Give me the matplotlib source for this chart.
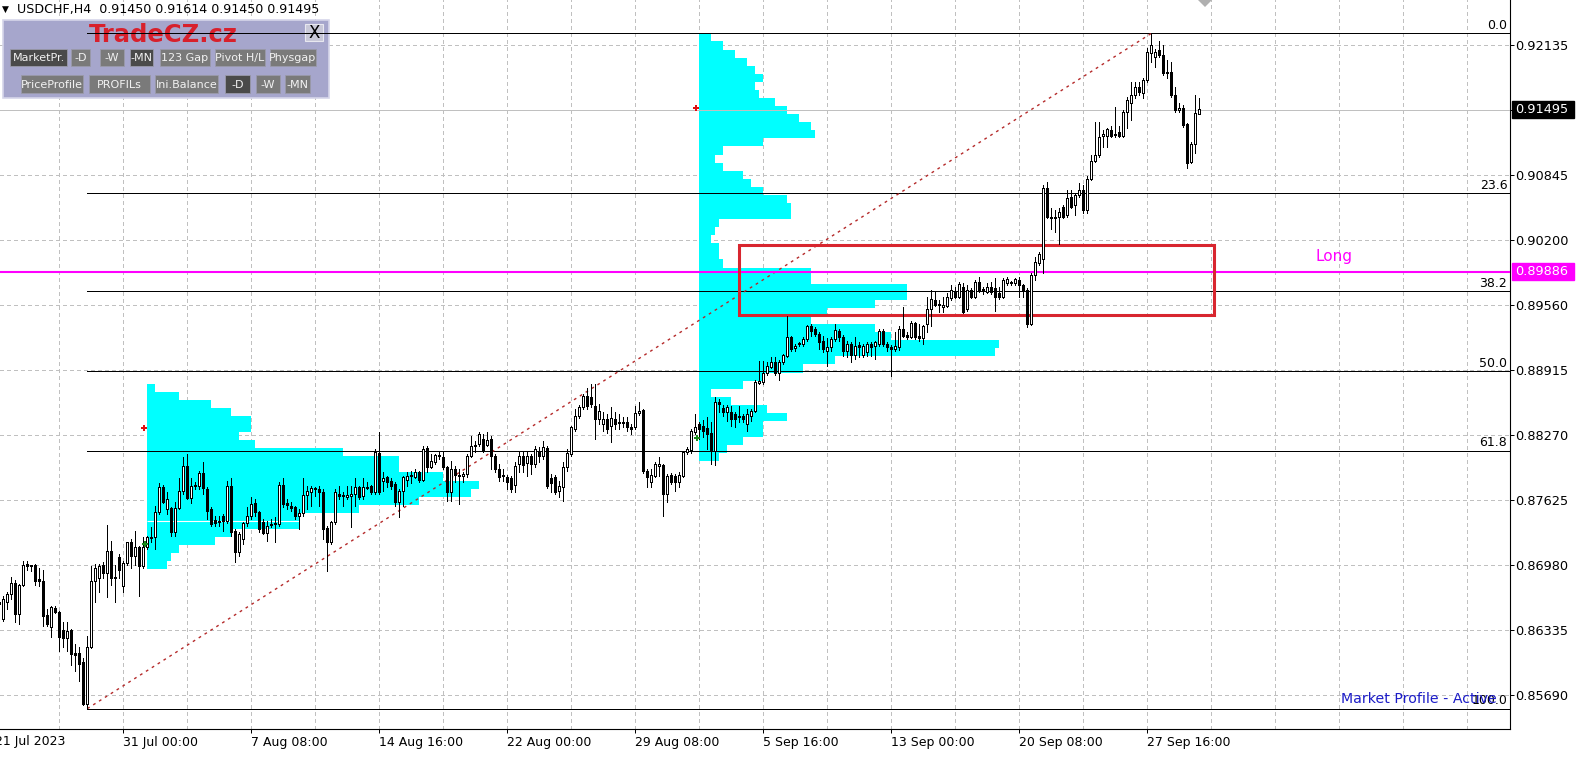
import numpy as np
import matplotlib
matplotlib.use("Agg")
import matplotlib.pyplot as plt
import matplotlib.transforms as mtransforms
from matplotlib.patches import Rectangle, Polygon

W, H = 1579, 759
plt.rcParams['font.family'] = ['DejaVu Sans']

# USDCHF H4, prices in pips (1e-4); index 0 = bar -1 (21 Jul 20:00), last = 29 Sep 20:00
first_bar = -1
opens = [8662, 8645, 8662, 8670, 8680, 8650, 8678, 8699, 8698, 8698, 8684, 8682, 8649, 8637, 8656, 8652, 8634, 8626, 8634, 8611,
         8611, 8602, 8561, 8617, 8682, 8685, 8698, 8690, 8712, 8686, 8706, 8677, 8700, 8721, 8707, 8716, 8697, 8716, 8725, 8726,
         8751, 8776, 8754, 8755, 8731, 8755, 8772, 8796, 8765, 8777, 8777, 8789, 8774, 8754, 8743, 8741, 8747, 8742, 8777, 8732,
         8711, 8724, 8740, 8747, 8760, 8751, 8741, 8730, 8738, 8739, 8739, 8778, 8760, 8757, 8756, 8747, 8750, 8768, 8771, 8774,
         8774, 8771, 8735, 8721, 8741, 8769, 8767, 8766, 8767, 8769, 8776, 8767, 8776, 8777, 8771, 8809, 8782, 8785, 8782, 8779,
         8761, 8772, 8783, 8786, 8785, 8790, 8783, 8814, 8795, 8800, 8806, 8805, 8795, 8771, 8793, 8786, 8786, 8788, 8806, 8817,
         8818, 8823, 8817, 8823, 8806, 8793, 8787, 8785, 8784, 8778, 8798, 8806, 8799, 8806, 8798, 8811, 8806, 8814, 8784, 8785,
         8772, 8776, 8795, 8808, 8833, 8846, 8855, 8866, 8865, 8856, 8843, 8838, 8843, 8836, 8843, 8840, 8839, 8840, 8835, 8835,
         8849, 8852, 8791, 8781, 8786, 8796, 8797, 8769, 8787, 8786, 8781, 8786, 8810, 8812, 8830, 8838, 8836, 8834, 8829, 8811,
         8860, 8854, 8850, 8850, 8848, 8846, 8846, 8838, 8846, 8851, 8879, 8880, 8889, 8894, 8899, 8889, 8899, 8905, 8924, 8913,
         8917, 8917, 8922, 8935, 8932, 8927, 8920, 8910, 8914, 8922, 8930, 8924, 8910, 8917, 8906, 8916, 8906, 8909, 8917, 8915,
         8917, 8930, 8917, 8914, 8912, 8914, 8932, 8926, 8924, 8938, 8925, 8923, 8937, 8952, 8961, 8957, 8954, 8955, 8963, 8970,
         8964, 8974, 8952, 8971, 8964, 8979, 8972, 8969, 8974, 8973, 8968, 8964, 8978, 8979, 8978, 8981, 8976, 8971, 8937, 8986,
         8998, 9001, 9072, 9043, 9043, 9043, 9053, 9045, 9063, 9055, 9065, 9070, 9050, 9081, 9099, 9105, 9123, 9123, 9129, 9125,
         9127, 9123, 9147, 9156, 9164, 9172, 9166, 9179, 9206, 9202, 9209, 9204, 9186, 9187, 9164, 9149, 9151, 9135, 9098, 9115,
         9145]
highs = [8665, 8668, 8672, 8686, 8683, 8679, 8702, 8702, 8698, 8699, 8695, 8693, 8655, 8658, 8658, 8653, 8642, 8642, 8635, 8620,
         8617, 8606, 8628, 8697, 8699, 8699, 8701, 8738, 8722, 8698, 8709, 8702, 8721, 8724, 8732, 8717, 8726, 8727, 8736, 8757,
         8780, 8778, 8771, 8756, 8761, 8784, 8805, 8808, 8784, 8781, 8791, 8800, 8776, 8756, 8747, 8747, 8749, 8782, 8784, 8734,
         8731, 8741, 8756, 8766, 8764, 8752, 8744, 8742, 8744, 8746, 8781, 8784, 8764, 8761, 8757, 8754, 8784, 8777, 8777, 8776,
         8777, 8774, 8737, 8742, 8774, 8777, 8771, 8777, 8777, 8784, 8777, 8784, 8781, 8778, 8813, 8830, 8790, 8786, 8784, 8781,
         8774, 8786, 8790, 8791, 8793, 8791, 8816, 8816, 8808, 8808, 8810, 8810, 8796, 8801, 8796, 8793, 8790, 8808, 8826, 8821,
         8830, 8828, 8830, 8826, 8808, 8798, 8793, 8787, 8786, 8800, 8810, 8810, 8811, 8808, 8816, 8815, 8821, 8816, 8788, 8787,
         8782, 8800, 8813, 8836, 8853, 8857, 8868, 8874, 8878, 8878, 8858, 8850, 8848, 8855, 8850, 8848, 8845, 8845, 8838, 8856,
         8860, 8853, 8793, 8793, 8800, 8805, 8798, 8788, 8789, 8788, 8790, 8811, 8815, 8833, 8848, 8840, 8842, 8845, 8840, 8865,
         8863, 8857, 8857, 8856, 8850, 8856, 8848, 8853, 8853, 8882, 8900, 8900, 8899, 8904, 8904, 8901, 8907, 8945, 8925, 8917,
         8919, 8924, 8936, 8937, 8934, 8929, 8925, 8923, 8924, 8937, 8932, 8926, 8920, 8919, 8924, 8919, 8917, 8919, 8919, 8920,
         8932, 8932, 8919, 8916, 8929, 8935, 8954, 8929, 8940, 8939, 8937, 8936, 8964, 8971, 8969, 8961, 8964, 8968, 8976, 8974,
         8979, 8978, 8976, 8973, 8981, 8984, 8974, 8978, 8979, 8983, 8974, 8983, 8984, 8980, 8983, 8984, 8977, 8973, 8988, 9003,
         9008, 9075, 9078, 9052, 9050, 9052, 9055, 9070, 9070, 9067, 9077, 9075, 9084, 9105, 9137, 9137, 9129, 9131, 9133, 9152,
         9133, 9149, 9162, 9177, 9177, 9177, 9181, 9211, 9225, 9210, 9217, 9214, 9199, 9197, 9172, 9156, 9154, 9136, 9117, 9164,
         9161]
lows = [8655, 8643, 8655, 8665, 8642, 8640, 8677, 8693, 8692, 8678, 8677, 8638, 8638, 8627, 8651, 8613, 8617, 8613, 8599, 8593,
        8583, 8560, 8556, 8616, 8662, 8672, 8685, 8667, 8678, 8662, 8685, 8672, 8698, 8695, 8698, 8668, 8695, 8714, 8721, 8714,
        8749, 8760, 8749, 8727, 8727, 8754, 8769, 8764, 8760, 8774, 8774, 8769, 8744, 8737, 8737, 8737, 8732, 8740, 8727, 8701,
        8707, 8719, 8737, 8744, 8747, 8731, 8729, 8722, 8736, 8721, 8737, 8756, 8754, 8752, 8744, 8734, 8747, 8754, 8757, 8767,
        8757, 8724, 8692, 8719, 8739, 8764, 8757, 8764, 8736, 8757, 8764, 8764, 8774, 8769, 8769, 8769, 8772, 8776, 8774, 8757,
        8746, 8757, 8777, 8780, 8784, 8781, 8782, 8790, 8794, 8798, 8803, 8793, 8762, 8762, 8781, 8759, 8781, 8785, 8805, 8810,
        8816, 8810, 8816, 8793, 8790, 8782, 8782, 8774, 8771, 8771, 8790, 8790, 8786, 8788, 8795, 8800, 8803, 8775, 8771, 8769,
        8766, 8762, 8791, 8806, 8831, 8844, 8853, 8853, 8855, 8823, 8838, 8831, 8829, 8820, 8833, 8833, 8835, 8831, 8828, 8833,
        8847, 8789, 8776, 8776, 8785, 8786, 8747, 8761, 8779, 8772, 8776, 8785, 8808, 8809, 8828, 8823, 8825, 8813, 8798, 8797,
        8850, 8846, 8841, 8836, 8835, 8840, 8840, 8831, 8841, 8850, 8878, 8878, 8887, 8893, 8887, 8882, 8897, 8904, 8910, 8910,
        8915, 8915, 8920, 8925, 8925, 8912, 8909, 8895, 8910, 8920, 8920, 8905, 8904, 8899, 8902, 8904, 8904, 8905, 8905, 8902,
        8915, 8915, 8910, 8886, 8910, 8911, 8924, 8922, 8923, 8922, 8920, 8917, 8929, 8935, 8955, 8949, 8949, 8954, 8961, 8963,
        8963, 8948, 8950, 8963, 8963, 8969, 8967, 8968, 8967, 8950, 8962, 8963, 8976, 8976, 8976, 8964, 8964, 8934, 8936, 8981,
        8996, 8988, 9042, 9031, 9028, 9016, 9042, 9043, 9052, 9045, 9063, 9047, 9047, 9080, 9098, 9103, 9112, 9112, 9122, 9122,
        9122, 9122, 9131, 9139, 9161, 9164, 9161, 9177, 9197, 9192, 9202, 9184, 9181, 9162, 9147, 9147, 9132, 9092, 9097, 9107,
        9145]
closes = [8660, 8665, 8670, 8680, 8650, 8678, 8698, 8697, 8697, 8682, 8682, 8648, 8640, 8657, 8652, 8627, 8626, 8633, 8610, 8609,
          8600, 8561, 8617, 8682, 8695, 8697, 8690, 8712, 8685, 8685, 8693, 8700, 8721, 8707, 8716, 8697, 8716, 8726, 8726, 8751,
          8776, 8761, 8764, 8731, 8755, 8772, 8796, 8765, 8777, 8778, 8789, 8775, 8752, 8739, 8740, 8742, 8742, 8777, 8731, 8711,
          8729, 8740, 8747, 8759, 8751, 8734, 8730, 8737, 8739, 8740, 8778, 8759, 8758, 8755, 8747, 8750, 8768, 8772, 8775, 8775,
          8771, 8734, 8721, 8741, 8771, 8767, 8768, 8768, 8769, 8776, 8766, 8776, 8775, 8771, 8810, 8771, 8784, 8781, 8777, 8761,
          8772, 8785, 8786, 8787, 8790, 8783, 8813, 8795, 8801, 8807, 8807, 8795, 8771, 8793, 8787, 8787, 8788, 8806, 8816, 8816,
          8828, 8812, 8822, 8806, 8793, 8785, 8786, 8781, 8774, 8796, 8806, 8797, 8806, 8798, 8813, 8806, 8815, 8777, 8780, 8771,
          8777, 8795, 8809, 8835, 8846, 8855, 8866, 8856, 8858, 8843, 8851, 8843, 8833, 8844, 8838, 8839, 8840, 8835, 8833, 8849,
          8851, 8791, 8785, 8787, 8798, 8798, 8769, 8786, 8781, 8781, 8787, 8810, 8813, 8831, 8835, 8833, 8831, 8828, 8811, 8860,
          8858, 8850, 8855, 8843, 8843, 8845, 8843, 8848, 8851, 8880, 8881, 8889, 8895, 8899, 8889, 8899, 8906, 8924, 8912, 8915,
          8918, 8922, 8935, 8930, 8927, 8919, 8912, 8914, 8922, 8931, 8924, 8910, 8917, 8906, 8915, 8914, 8915, 8917, 8914, 8919,
          8930, 8917, 8914, 8912, 8915, 8932, 8925, 8924, 8938, 8924, 8923, 8935, 8952, 8962, 8956, 8956, 8956, 8964, 8971, 8964,
          8977, 8949, 8971, 8964, 8979, 8971, 8970, 8974, 8969, 8964, 8964, 8981, 8982, 8978, 8982, 8976, 8971, 8937, 8986, 8999,
          9006, 9072, 9043, 9042, 9042, 9048, 9043, 9062, 9053, 9065, 9070, 9050, 9081, 9099, 9105, 9122, 9125, 9130, 9123, 9124,
          9123, 9147, 9159, 9164, 9172, 9167, 9179, 9207, 9214, 9207, 9204, 9186, 9187, 9164, 9149, 9151, 9134, 9097, 9115, 9146,
          9150]

date_bars = [30, 62, 94, 126, 158, 190, 222, 254, 286]
date_labels = ['31 Jul 00:00', '7 Aug 08:00', '14 Aug 16:00', '22 Aug 00:00', '29 Aug 08:00',
               '5 Sep 16:00', '13 Sep 00:00', '20 Sep 08:00', '27 Sep 16:00']
first_date_bar, first_date_label = -2, '21 Jul 2023'
price_ticks = [0.92135, 0.91490, 0.90845, 0.90200, 0.89560, 0.88915, 0.88270, 0.87625, 0.86980, 0.86335, 0.85690]
price_labels = ['0.92135', '', '0.90845', '0.90200', '0.89560', '0.88915', '0.88270', '0.87625', '0.86980', '0.86335', '0.85690']

fib_levels = [0.0, 23.6, 38.2, 50.0, 61.8, 100.0]

# market profiles: start bar, top price, row counts (rows of 0.0008)
profile_step = 0.0008
aug_start, aug_top = 36, 0.8878
aug_counts = [2, 8, 16, 21, 26, 26, 23, 27, 49, 63, 63, 74, 83, 81, 68, 53, 38, 38, 21, 17, 8, 6, 5]
aug_poc = 0.8742
sep_start, sep_top = 174, 0.9225
sep_counts = [3, 6, 9, 12, 14, 16, 14, 15, 19, 22, 25, 28, 29, 16, 6, 4, 6, 11, 13, 16,
              22, 23, 23, 5, 4, 3, 5, 5, 6, 28, 28, 52, 52, 44, 32, 28, 44, 48, 75, 74,
              34, 26, 16, 11, 3, 8, 17, 22, 16, 16, 11, 7, 5]
red_marks = [(35.25, 0.88337), (173.1, 0.91514)]
green_marks = [(35.4, 0.87188), (173.4, 0.88238)]

long_level = 0.89886
last_price = 0.91495
zone_bars = (183.9, 302.7)
zone_prices = (0.8946, 0.9015)

y_lo, y_hi = 0.85358, 0.92581
x_lo, x_hi = -0.825, 376.675

fig = plt.figure(figsize=(W / 100, H / 100), dpi=100)
fig.patch.set_facecolor('white')
ax = fig.add_axes([0, (H - 729) / H, 1510 / W, 729 / H])
ax.set_facecolor('white')
PX = mtransforms.Affine2D().scale(1, -1).translate(0, H)
tr_px_data = mtransforms.blended_transform_factory(mtransforms.IdentityTransform(), ax.transData)
tr_data_px = mtransforms.blended_transform_factory(ax.transData, PX)

# grid
grid_c = '#c0c0c0'
ax.vlines(np.arange(-2, 377, 16), y_lo, y_hi, colors=grid_c, lw=0.72, linestyles=(0, (4, 4)), zorder=1, antialiased=False)
ax.hlines(price_ticks, x_lo, x_hi, colors=grid_c, lw=0.72, linestyles=(0, (4, 4)), zorder=1, antialiased=False)

# market profiles
for start, top, counts in [(aug_start, aug_top, aug_counts), (sep_start, sep_top, sep_counts)]:
    rows = top - profile_step * (np.arange(len(counts)) + 1)
    ax.barh(rows, counts, height=profile_step, left=start - 0.15, align='edge', color='#00ffff',
            lw=0, zorder=2, antialiased=False)
ax.hlines(aug_poc, aug_start - 0.15, aug_start + 38, colors='white', lw=0.8, zorder=2.5)

# current price line
ax.hlines(last_price, x_lo, x_hi, colors='#c0c0c0', lw=0.72, zorder=3, antialiased=False)

# TradeCZ panel
ax.add_patch(Rectangle((3, 20), 326, 78, transform=PX, facecolor='#a6a6cc', edgecolor='#d6d6ea',
                       lw=1.2, zorder=5, clip_on=False))
ax.text(163, 35, 'TradeCZ.cz', transform=PX, color='#d8202c', fontsize=17.5, fontweight='bold',
        ha='center', va='center', zorder=5.5)
ax.add_patch(Rectangle((305, 24), 18, 17, transform=PX, facecolor='#c8c8d8', edgecolor='#e8e8f0',
                       lw=0.8, zorder=5.2))
ax.text(314, 33, 'X', transform=PX, color='black', fontsize=12, ha='center', va='center', zorder=5.5)
buttons = [('MarketPr.', 10, 67, 49, 66, 1), ('-D', 71, 90, 49, 66, 0), ('-W', 100, 124, 49, 66, 0),
           ('-MN', 130, 153, 49, 66, 1), ('123 Gap', 160, 210, 49, 66, 0), ('Pivot H/L', 215, 265, 49, 66, 0),
           ('Physgap', 270, 316, 49, 66, 0),
           ('PriceProfile', 21, 83, 75, 93, 0), ('PROFILs', 89, 150, 75, 93, 0), ('Ini.Balance', 155, 218, 75, 93, 0),
           ('-D', 225, 250, 75, 93, 1), ('-W', 256, 280, 75, 93, 0), ('-MN', 285, 310, 75, 93, 0)]
for label, bx0, bx1, by0, by1, dark in buttons:
    ax.add_patch(Rectangle((bx0, by0), bx1 - bx0, by1 - by0, transform=PX,
                           facecolor='#4a4a4a' if dark else '#7a7a7a', edgecolor='#9a9aaa', lw=0.6, zorder=5.2))
    ax.text((bx0 + bx1) / 2, (by0 + by1) / 2 + 0.5, label, transform=PX, color='#f2f2f2', fontsize=8,
            ha='center', va='center', zorder=5.5)

# fibonacci
hi, lo = max(highs) / 1e4, min(lows) / 1e4
lo_bar = int(np.argmin(lows)) + first_bar
hi_bar = int(np.argmax(highs)) + first_bar
for lvl in fib_levels:
    p = hi - (hi - lo) * lvl / 100
    ax.hlines(p, lo_bar, x_hi, colors='black', lw=0.72, zorder=6, antialiased=False)
    ax.text(376.0, p + 0.00012, f'{lvl:.1f}', ha='right', va='bottom', fontsize=9, zorder=6)
ax.plot([lo_bar, hi_bar], [lo, hi], color='#b52a2a', lw=1.0, ls=(0, (2, 3)), zorder=6)

# long level and zone
ax.hlines(long_level, x_lo, x_hi, colors='#ff00ff', lw=1.5, zorder=6)
ax.text(1334, 257, 'Long', transform=PX, color='#ff00ff', fontsize=11, ha='center', va='center', zorder=6)
ax.add_patch(Rectangle((zone_bars[0], zone_prices[0]), zone_bars[1] - zone_bars[0], zone_prices[1] - zone_prices[0],
                       fill=False, edgecolor='#d8262f', lw=2.2, zorder=6))

# candles
x = np.arange(len(opens)) + first_bar
o, h, l, c = (np.array(v) / 1e4 for v in (opens, highs, lows, closes))
up = c >= o
ax.vlines(x, l, h, colors='black', lw=0.72, zorder=7, antialiased=False)
ax.bar(x[up], (c - o)[up], bottom=o[up], width=0.5, facecolor='white', edgecolor='black', lw=0.72,
       zorder=8, antialiased=False)
ax.bar(x[~up], (o - c)[~up], bottom=c[~up], width=0.5, facecolor='black', edgecolor='black', lw=0.72,
       zorder=8, antialiased=False)

for mx, my in red_marks:
    ax.plot(mx, my, marker='P', color='#e01010', ms=5, mew=0, zorder=9)
for mx, my in green_marks:
    ax.plot(mx, my, marker='P', color='#1a8a1a', ms=5, mew=0, zorder=9)

ax.text(1497, 699, 'Market Profile - Active', transform=PX, color='#1c1cc8', fontsize=10.2,
        ha='right', va='center', zorder=9)

# title and chart-shift marker
ax.text(2, 9, '\u25bc', transform=PX, fontsize=6.5, ha='left', va='center', zorder=9)
ax.text(17, 9, 'USDCHF,H4  0.91450 0.91614 0.91450 0.91495', transform=PX, fontsize=9.1,
        ha='left', va='center', zorder=9)
ax.add_patch(Polygon([(1198, 0), (1212, 0), (1205, 7)], closed=True, transform=PX, facecolor='#b0b0b0',
                     edgecolor='none', zorder=9))

# axes
ax.set_xlim(x_lo, x_hi)
ax.set_ylim(y_lo, y_hi)
for s in ['top', 'left']:
    ax.spines[s].set_visible(False)
for s in ['right', 'bottom']:
    ax.spines[s].set_linewidth(0.8)
ax.yaxis.tick_right()
ax.set_yticks(price_ticks)
ax.set_yticklabels(price_labels)
ax.set_xticks(date_bars)
ax.set_xticklabels(date_labels)
for t in ax.get_xticklabels():
    t.set_horizontalalignment('left')
ax.tick_params(axis='y', direction='out', length=3, width=0.72, pad=1, labelsize=9.3)
ax.tick_params(axis='x', direction='out', length=3, width=0.72, pad=2, labelsize=9)
ax.text(first_date_bar, 742, first_date_label, transform=tr_data_px, fontsize=9, ha='left', va='center',
        clip_on=False)

# right-axis price boxes
half = 8.5 * (y_hi - y_lo) / 729
for price, txt, fc in [(last_price, '0.91495', 'black'), (long_level, '0.89886', '#ff00ff')]:
    ax.add_patch(Rectangle((1512, price - half), 62, 2 * half, transform=tr_px_data, facecolor=fc,
                           edgecolor=fc, clip_on=False, zorder=10))
    ax.text(1515, price, txt, transform=tr_px_data, color='white', fontsize=9.3, ha='left', va='center',
            zorder=11, clip_on=False)

fig.savefig('out.png', dpi=100)
